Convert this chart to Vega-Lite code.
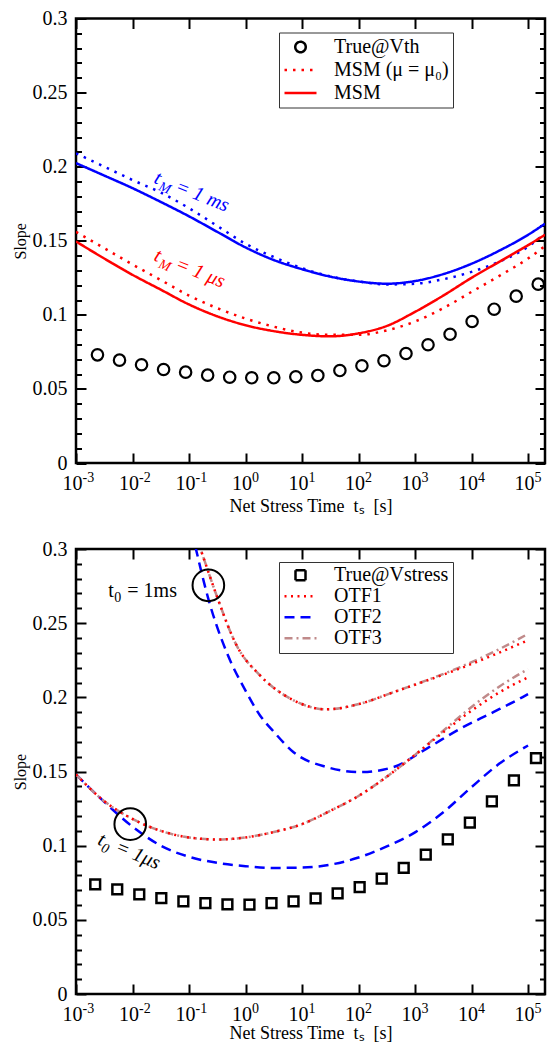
{
  "$schema": "https://vega.github.io/schema/vega-lite/v6.json",
  "background": "white",
  "padding": {"left": 10, "top": 6.5, "right": 2, "bottom": 0},
  "spacing": 85.5,
  "bounds": "flush",
  "resolve": {
    "scale": {"x": "independent", "y": "independent", "color": "independent", "strokeDash": "independent"},
    "legend": {"color": "independent", "strokeDash": "independent"}
  },
  "config": {
    "font": "Liberation Serif",
    "view": {"stroke": "black", "strokeWidth": 2.5},
    "axis": {"domain": false, "grid": false, "tickColor": "black", "tickWidth": 2, "labelColor": "black", "titleColor": "black", "labelFont": "Liberation Serif", "titleFont": "Liberation Serif", "titleFontWeight": "normal", "labelFlush": false, "labelOverlap": false, "labelBound": false}
  },
  "vconcat": [
    {
      "width": 469,
      "height": 444.5,
      "resolve": {"axis": {"x": "independent", "y": "independent"}},
      "layer": [
        {
          "data": {"values": [
            {"t": 0.001, "slope": 0.209, "series": "MSM (μ = μ₀)", "tM": "1 ms"},
            {"t": 0.0031623, "slope": 0.2, "series": "MSM (μ = μ₀)", "tM": "1 ms"},
            {"t": 0.01, "slope": 0.191, "series": "MSM (μ = μ₀)", "tM": "1 ms"},
            {"t": 0.031623, "slope": 0.1825, "series": "MSM (μ = μ₀)", "tM": "1 ms"},
            {"t": 0.1, "slope": 0.172, "series": "MSM (μ = μ₀)", "tM": "1 ms"},
            {"t": 0.31623, "slope": 0.16, "series": "MSM (μ = μ₀)", "tM": "1 ms"},
            {"t": 1, "slope": 0.148, "series": "MSM (μ = μ₀)", "tM": "1 ms"},
            {"t": 3.1623, "slope": 0.139, "series": "MSM (μ = μ₀)", "tM": "1 ms"},
            {"t": 10, "slope": 0.1315, "series": "MSM (μ = μ₀)", "tM": "1 ms"},
            {"t": 31.623, "slope": 0.126, "series": "MSM (μ = μ₀)", "tM": "1 ms"},
            {"t": 100, "slope": 0.1225, "series": "MSM (μ = μ₀)", "tM": "1 ms"},
            {"t": 316.23, "slope": 0.1205, "series": "MSM (μ = μ₀)", "tM": "1 ms"},
            {"t": 1000, "slope": 0.121, "series": "MSM (μ = μ₀)", "tM": "1 ms"},
            {"t": 3162.3, "slope": 0.124, "series": "MSM (μ = μ₀)", "tM": "1 ms"},
            {"t": 10000, "slope": 0.129, "series": "MSM (μ = μ₀)", "tM": "1 ms"},
            {"t": 31623, "slope": 0.136, "series": "MSM (μ = μ₀)", "tM": "1 ms"},
            {"t": 100000, "slope": 0.146, "series": "MSM (μ = μ₀)", "tM": "1 ms"},
            {"t": 199526, "slope": 0.155, "series": "MSM (μ = μ₀)", "tM": "1 ms"},
            {"t": 0.001, "slope": 0.2024, "series": "MSM", "tM": "1 ms"},
            {"t": 0.0031623, "slope": 0.194, "series": "MSM", "tM": "1 ms"},
            {"t": 0.01, "slope": 0.1855, "series": "MSM", "tM": "1 ms"},
            {"t": 0.031623, "slope": 0.1762, "series": "MSM", "tM": "1 ms"},
            {"t": 0.1, "slope": 0.1665, "series": "MSM", "tM": "1 ms"},
            {"t": 0.31623, "slope": 0.156, "series": "MSM", "tM": "1 ms"},
            {"t": 1, "slope": 0.1455, "series": "MSM", "tM": "1 ms"},
            {"t": 3.1623, "slope": 0.137, "series": "MSM", "tM": "1 ms"},
            {"t": 10, "slope": 0.1308, "series": "MSM", "tM": "1 ms"},
            {"t": 31.623, "slope": 0.1258, "series": "MSM", "tM": "1 ms"},
            {"t": 100, "slope": 0.1225, "series": "MSM", "tM": "1 ms"},
            {"t": 316.23, "slope": 0.121, "series": "MSM", "tM": "1 ms"},
            {"t": 1000, "slope": 0.1228, "series": "MSM", "tM": "1 ms"},
            {"t": 3162.3, "slope": 0.1275, "series": "MSM", "tM": "1 ms"},
            {"t": 10000, "slope": 0.1345, "series": "MSM", "tM": "1 ms"},
            {"t": 31623, "slope": 0.1435, "series": "MSM", "tM": "1 ms"},
            {"t": 100000, "slope": 0.154, "series": "MSM", "tM": "1 ms"},
            {"t": 199526, "slope": 0.1615, "series": "MSM", "tM": "1 ms"},
            {"t": 0.001, "slope": 0.156, "series": "MSM (μ = μ₀)", "tM": "1 μs"},
            {"t": 0.0031623, "slope": 0.145, "series": "MSM (μ = μ₀)", "tM": "1 μs"},
            {"t": 0.01, "slope": 0.134, "series": "MSM (μ = μ₀)", "tM": "1 μs"},
            {"t": 0.031623, "slope": 0.1235, "series": "MSM (μ = μ₀)", "tM": "1 μs"},
            {"t": 0.1, "slope": 0.113, "series": "MSM (μ = μ₀)", "tM": "1 μs"},
            {"t": 0.31623, "slope": 0.1045, "series": "MSM (μ = μ₀)", "tM": "1 μs"},
            {"t": 1, "slope": 0.0975, "series": "MSM (μ = μ₀)", "tM": "1 μs"},
            {"t": 3.1623, "slope": 0.092, "series": "MSM (μ = μ₀)", "tM": "1 μs"},
            {"t": 10, "slope": 0.088, "series": "MSM (μ = μ₀)", "tM": "1 μs"},
            {"t": 31.623, "slope": 0.0865, "series": "MSM (μ = μ₀)", "tM": "1 μs"},
            {"t": 100, "slope": 0.0865, "series": "MSM (μ = μ₀)", "tM": "1 μs"},
            {"t": 316.23, "slope": 0.0895, "series": "MSM (μ = μ₀)", "tM": "1 μs"},
            {"t": 1000, "slope": 0.0955, "series": "MSM (μ = μ₀)", "tM": "1 μs"},
            {"t": 3162.3, "slope": 0.1045, "series": "MSM (μ = μ₀)", "tM": "1 μs"},
            {"t": 10000, "slope": 0.1155, "series": "MSM (μ = μ₀)", "tM": "1 μs"},
            {"t": 31623, "slope": 0.1265, "series": "MSM (μ = μ₀)", "tM": "1 μs"},
            {"t": 100000, "slope": 0.138, "series": "MSM (μ = μ₀)", "tM": "1 μs"},
            {"t": 199526, "slope": 0.1465, "series": "MSM (μ = μ₀)", "tM": "1 μs"},
            {"t": 0.001, "slope": 0.1495, "series": "MSM", "tM": "1 μs"},
            {"t": 0.0031623, "slope": 0.138, "series": "MSM", "tM": "1 μs"},
            {"t": 0.01, "slope": 0.127, "series": "MSM", "tM": "1 μs"},
            {"t": 0.031623, "slope": 0.117, "series": "MSM", "tM": "1 μs"},
            {"t": 0.1, "slope": 0.107, "series": "MSM", "tM": "1 μs"},
            {"t": 0.31623, "slope": 0.099, "series": "MSM", "tM": "1 μs"},
            {"t": 1, "slope": 0.093, "series": "MSM", "tM": "1 μs"},
            {"t": 3.1623, "slope": 0.089, "series": "MSM", "tM": "1 μs"},
            {"t": 10, "slope": 0.0865, "series": "MSM", "tM": "1 μs"},
            {"t": 31.623, "slope": 0.0855, "series": "MSM", "tM": "1 μs"},
            {"t": 100, "slope": 0.0875, "series": "MSM", "tM": "1 μs"},
            {"t": 316.23, "slope": 0.0925, "series": "MSM", "tM": "1 μs"},
            {"t": 1000, "slope": 0.102, "series": "MSM", "tM": "1 μs"},
            {"t": 3162.3, "slope": 0.113, "series": "MSM", "tM": "1 μs"},
            {"t": 10000, "slope": 0.125, "series": "MSM", "tM": "1 μs"},
            {"t": 31623, "slope": 0.136, "series": "MSM", "tM": "1 μs"},
            {"t": 100000, "slope": 0.147, "series": "MSM", "tM": "1 μs"},
            {"t": 199526, "slope": 0.154, "series": "MSM", "tM": "1 μs"}
          ]},
          "mark": {"type": "line", "strokeWidth": 2.5, "interpolate": "monotone", "clip": true},
          "encoding": {
            "x": {"field": "t", "type": "quantitative", "scale": {"type": "log", "domain": [0.001, 199526], "nice": false},
              "axis": {"orient": "bottom", "values": [0.001, 0.01, 0.1, 1, 10, 100, 1000, 10000, 100000], "tickSize": -10, "labelPadding": 20, "labelFontSize": 20, "labelFont": "Liberation Serif", "labelExpr": "'10'", "labelAlign": "center", "labelOffset": -4, "labelBaseline": "top",
                "title": "Net Stress Time \u00a0tₛ \u00a0[s]", "titleFont": "Liberation Serif", "titleFontSize": 18, "titleY": 34, "titleBaseline": "top"}},
            "y": {"field": "slope", "type": "quantitative", "scale": {"domain": [0, 0.3], "nice": false, "zero": false},
              "axis": {"orient": "left", "values": [0, 0.05, 0.1, 0.15, 0.2, 0.25, 0.3], "format": "~g", "tickSize": -10, "labelPadding": 19, "labelFontSize": 20, "labelFont": "Liberation Serif",
                "title": "Slope", "titleFont": "Liberation Serif", "titleFontSize": 16, "titleX": -56, "titleBaseline": "middle"}},
            "color": {"field": "tM", "type": "nominal", "scale": {"domain": ["1 ms", "1 μs"], "range": ["#0000ff", "#ff0000"]}, "legend": null},
            "strokeDash": {"field": "series", "type": "nominal",
              "scale": {"domain": ["True@Vth", "MSM (μ = μ₀)", "MSM"], "range": [[1, 0], [2.5, 6], [1, 0]]},
              "legend": {"orient": "none", "legendX": 203, "legendY": 14, "title": null,
                "labelFont": "Liberation Serif", "labelFontSize": 20, "labelColor": "black", "labelOffset": 16,
                "padding": 4, "rowPadding": 2, "clipHeight": 21, "symbolSize": 1024, "symbolStrokeWidth": 2.5,
                "strokeColor": "#333333", "fillColor": "white", "symbolType": "stroke",
                "encode": {"symbols": {"update": {
                  "shape": {"signal": "datum.value === 'True@Vth' ? 'circle' : 'stroke'"},
                  "size": {"signal": "datum.value === 'True@Vth' ? 110 : 1024"},
                  "stroke": {"signal": "datum.value === 'True@Vth' ? 'black' : '#ff0000'"},
                  "fill": {"value": "transparent"},
                  "strokeDash": {"signal": "datum.value === 'MSM' ? [1, 0] : datum.value === 'True@Vth' ? [1, 0] : [2.5, 6]"}
                }}}}
            }
          }
        },
        {
          "data": {"values": [
            {"t": 0.0023988, "slope": 0.073}, {"t": 0.0058884, "slope": 0.0694}, {"t": 0.014454, "slope": 0.0663},
            {"t": 0.035481, "slope": 0.0631}, {"t": 0.087096, "slope": 0.0613}, {"t": 0.21380, "slope": 0.0593},
            {"t": 0.52481, "slope": 0.0579}, {"t": 1.2882, "slope": 0.0575}, {"t": 3.1623, "slope": 0.0575},
            {"t": 7.7625, "slope": 0.0582}, {"t": 19.055, "slope": 0.0591}, {"t": 46.774, "slope": 0.0624},
            {"t": 114.82, "slope": 0.0656}, {"t": 281.84, "slope": 0.069}, {"t": 691.83, "slope": 0.0739},
            {"t": 1698.2, "slope": 0.0798}, {"t": 4168.7, "slope": 0.0869}, {"t": 10233, "slope": 0.0955},
            {"t": 25119, "slope": 0.1038}, {"t": 61660, "slope": 0.1126}, {"t": 151356, "slope": 0.1207}
          ]},
          "mark": {"type": "point", "shape": "circle", "filled": false, "stroke": "black", "strokeWidth": 2.2, "size": 130, "opacity": 1},
          "encoding": {
            "x": {"field": "t", "type": "quantitative", "scale": {"type": "log", "domain": [0.001, 199526], "nice": false},
              "axis": {"orient": "top", "values": [0.001, 0.01, 0.1, 1, 10, 100, 1000, 10000, 100000], "tickSize": -10, "labels": false, "title": null}},
            "y": {"field": "slope", "type": "quantitative", "scale": {"domain": [0, 0.3], "nice": false, "zero": false},
              "axis": {"orient": "right", "values": [0, 0.05, 0.1, 0.15, 0.2, 0.25, 0.3], "tickSize": -10, "labels": false, "title": null}}
          }
        },
        {
          "data": {"values": [
            {"t": 0.02307, "slope": 0.1893, "tM": "1 ms", "head": "t", "sub": "M", "rest": "= 1 ms"},
            {"t": 0.02307, "slope": 0.137, "tM": "1 μs", "head": "t", "sub": "M", "rest": "= 1 μs"}
          ]},
          "mark": {"type": "text", "font": "Liberation Serif", "fontStyle": "italic", "fontSize": 20, "align": "left", "baseline": "alphabetic", "angle": 22},
          "encoding": {
            "x": {"field": "t", "type": "quantitative", "scale": {"type": "log", "domain": [0.001, 199526], "nice": false},
              "axis": {"orient": "bottom", "values": [0.001, 0.01, 0.1, 1, 10, 100, 1000, 10000, 100000], "ticks": false, "tickSize": 0, "labelPadding": 7, "labelFontSize": 14, "labelFont": "Liberation Serif", "labelExpr": "'' + round(log(datum.value) / LN10)", "labelAlign": "left", "labelOffset": 6, "labelBaseline": "top", "title": null}},
            "y": {"field": "slope", "type": "quantitative", "scale": {"domain": [0, 0.3], "nice": false, "zero": false},
              "axis": {"orient": "left", "values": [0.01, 0.02, 0.03, 0.04, 0.06, 0.07, 0.08, 0.09, 0.11, 0.12, 0.13, 0.14, 0.16, 0.17, 0.18, 0.19, 0.21, 0.22, 0.23, 0.24, 0.26, 0.27, 0.28, 0.29], "tickSize": -5.5, "labels": false, "title": null}},
            "text": {"field": "head"},
            "color": {"field": "tM", "type": "nominal", "scale": {"domain": ["1 ms", "1 μs"], "range": ["#0000ff", "#ff0000"]}, "legend": null}
          }
        },
        {
          "data": {"values": [
            {"t": 0.02307, "slope": 0.1893, "tM": "1 ms", "head": "t", "sub": "M", "rest": "= 1 ms"},
            {"t": 0.02307, "slope": 0.137, "tM": "1 μs", "head": "t", "sub": "M", "rest": "= 1 μs"}
          ]},
          "mark": {"type": "text", "font": "Liberation Serif", "fontStyle": "italic", "fontSize": 14, "align": "left", "baseline": "alphabetic", "angle": 22, "dx": 7, "dy": 5},
          "encoding": {
            "x": {"field": "t", "type": "quantitative", "scale": {"type": "log", "domain": [0.001, 199526], "nice": false}, "axis": null},
            "y": {"field": "slope", "type": "quantitative", "scale": {"domain": [0, 0.3], "nice": false, "zero": false},
              "axis": {"orient": "right", "values": [0.01, 0.02, 0.03, 0.04, 0.06, 0.07, 0.08, 0.09, 0.11, 0.12, 0.13, 0.14, 0.16, 0.17, 0.18, 0.19, 0.21, 0.22, 0.23, 0.24, 0.26, 0.27, 0.28, 0.29], "tickSize": -5.5, "labels": false, "title": null}},
            "text": {"field": "sub"},
            "color": {"field": "tM", "type": "nominal", "scale": {"domain": ["1 ms", "1 μs"], "range": ["#0000ff", "#ff0000"]}, "legend": null}
          }
        },
        {
          "data": {"values": [
            {"t": 0.02307, "slope": 0.1893, "tM": "1 ms", "head": "t", "sub": "M", "rest": "= 1 ms"},
            {"t": 0.02307, "slope": 0.137, "tM": "1 μs", "head": "t", "sub": "M", "rest": "= 1 μs"}
          ]},
          "mark": {"type": "text", "font": "Liberation Serif", "fontStyle": "italic", "fontSize": 20, "align": "left", "baseline": "alphabetic", "angle": 22, "dx": 23},
          "encoding": {
            "x": {"field": "t", "type": "quantitative", "scale": {"type": "log", "domain": [0.001, 199526], "nice": false}, "axis": null},
            "y": {"field": "slope", "type": "quantitative", "scale": {"domain": [0, 0.3], "nice": false, "zero": false}, "axis": null},
            "text": {"field": "rest"},
            "color": {"field": "tM", "type": "nominal", "scale": {"domain": ["1 ms", "1 μs"], "range": ["#0000ff", "#ff0000"]}, "legend": null}
          }
        }
      ]
    },
    {
      "width": 469,
      "height": 445,
      "resolve": {"axis": {"x": "independent", "y": "independent"}},
      "layer": [
        {
          "data": {"values": [
            {"t": 0.1122, "slope": 0.312, "curve": "OTF2", "t0": "1 ms"},
            {"t": 0.13646, "slope": 0.298, "curve": "OTF2", "t0": "1 ms"},
            {"t": 0.21979, "slope": 0.2664, "curve": "OTF2", "t0": "1 ms"},
            {"t": 0.46238, "slope": 0.2305, "curve": "OTF2", "t0": "1 ms"},
            {"t": 1, "slope": 0.2045, "curve": "OTF2", "t0": "1 ms"},
            {"t": 1.8072, "slope": 0.1878, "curve": "OTF2", "t0": "1 ms"},
            {"t": 3.1623, "slope": 0.1768, "curve": "OTF2", "t0": "1 ms"},
            {"t": 7.0795, "slope": 0.163, "curve": "OTF2", "t0": "1 ms"},
            {"t": 27.227, "slope": 0.153, "curve": "OTF2", "t0": "1 ms"},
            {"t": 107.15, "slope": 0.1496, "curve": "OTF2", "t0": "1 ms"},
            {"t": 416.87, "slope": 0.153, "curve": "OTF2", "t0": "1 ms"},
            {"t": 1584.9, "slope": 0.1653, "curve": "OTF2", "t0": "1 ms"},
            {"t": 6251.7, "slope": 0.1788, "curve": "OTF2", "t0": "1 ms"},
            {"t": 24322, "slope": 0.19, "curve": "OTF2", "t0": "1 ms"},
            {"t": 80353, "slope": 0.2002, "curve": "OTF2", "t0": "1 ms"},
            {"t": 100000, "slope": 0.2022, "curve": "OTF2", "t0": "1 ms"},
            {"t": 0.001, "slope": 0.148, "curve": "OTF2", "t0": "1 μs"},
            {"t": 0.0031623, "slope": 0.1295, "curve": "OTF2", "t0": "1 μs"},
            {"t": 0.01, "slope": 0.1128, "curve": "OTF2", "t0": "1 μs"},
            {"t": 0.031623, "slope": 0.1, "curve": "OTF2", "t0": "1 μs"},
            {"t": 0.1, "slope": 0.0925, "curve": "OTF2", "t0": "1 μs"},
            {"t": 0.31623, "slope": 0.0884, "curve": "OTF2", "t0": "1 μs"},
            {"t": 1, "slope": 0.0862, "curve": "OTF2", "t0": "1 μs"},
            {"t": 3.1623, "slope": 0.085, "curve": "OTF2", "t0": "1 μs"},
            {"t": 10, "slope": 0.0852, "curve": "OTF2", "t0": "1 μs"},
            {"t": 31.623, "slope": 0.0872, "curve": "OTF2", "t0": "1 μs"},
            {"t": 100, "slope": 0.092, "curve": "OTF2", "t0": "1 μs"},
            {"t": 316.23, "slope": 0.0995, "curve": "OTF2", "t0": "1 μs"},
            {"t": 1000, "slope": 0.109, "curve": "OTF2", "t0": "1 μs"},
            {"t": 3162.3, "slope": 0.1225, "curve": "OTF2", "t0": "1 μs"},
            {"t": 10000, "slope": 0.1395, "curve": "OTF2", "t0": "1 μs"},
            {"t": 31623, "slope": 0.1555, "curve": "OTF2", "t0": "1 μs"},
            {"t": 100000, "slope": 0.1675, "curve": "OTF2", "t0": "1 μs"},
            {"t": 0.14125, "slope": 0.306, "curve": "OTF3", "t0": "1 ms"},
            {"t": 0.17906, "slope": 0.2945, "curve": "OTF3", "t0": "1 ms"},
            {"t": 0.30761, "slope": 0.2687, "curve": "OTF3", "t0": "1 ms"},
            {"t": 0.69502, "slope": 0.235, "curve": "OTF3", "t0": "1 ms"},
            {"t": 1.8072, "slope": 0.2148, "curve": "OTF3", "t0": "1 ms"},
            {"t": 7.0795, "slope": 0.198, "curve": "OTF3", "t0": "1 ms"},
            {"t": 27.227, "slope": 0.1919, "curve": "OTF3", "t0": "1 ms"},
            {"t": 107.15, "slope": 0.1957, "curve": "OTF3", "t0": "1 ms"},
            {"t": 416.87, "slope": 0.2035, "curve": "OTF3", "t0": "1 ms"},
            {"t": 1584.9, "slope": 0.2114, "curve": "OTF3", "t0": "1 ms"},
            {"t": 6309.6, "slope": 0.2204, "curve": "OTF3", "t0": "1 ms"},
            {"t": 24322, "slope": 0.2305, "curve": "OTF3", "t0": "1 ms"},
            {"t": 100000, "slope": 0.2428, "curve": "OTF3", "t0": "1 ms"},
            {"t": 0.001, "slope": 0.148, "curve": "OTF3", "t0": "1 μs"},
            {"t": 0.0031623, "slope": 0.13, "curve": "OTF3", "t0": "1 μs"},
            {"t": 0.01, "slope": 0.118, "curve": "OTF3", "t0": "1 μs"},
            {"t": 0.031623, "slope": 0.11, "curve": "OTF3", "t0": "1 μs"},
            {"t": 0.1, "slope": 0.1055, "curve": "OTF3", "t0": "1 μs"},
            {"t": 0.31623, "slope": 0.1042, "curve": "OTF3", "t0": "1 μs"},
            {"t": 1, "slope": 0.1055, "curve": "OTF3", "t0": "1 μs"},
            {"t": 3.1623, "slope": 0.1092, "curve": "OTF3", "t0": "1 μs"},
            {"t": 10, "slope": 0.1145, "curve": "OTF3", "t0": "1 μs"},
            {"t": 31.623, "slope": 0.1235, "curve": "OTF3", "t0": "1 μs"},
            {"t": 100, "slope": 0.1335, "curve": "OTF3", "t0": "1 μs"},
            {"t": 316.23, "slope": 0.1465, "curve": "OTF3", "t0": "1 μs"},
            {"t": 1000, "slope": 0.1612, "curve": "OTF3", "t0": "1 μs"},
            {"t": 3162.3, "slope": 0.1775, "curve": "OTF3", "t0": "1 μs"},
            {"t": 10000, "slope": 0.1935, "curve": "OTF3", "t0": "1 μs"},
            {"t": 31623, "slope": 0.2075, "curve": "OTF3", "t0": "1 μs"},
            {"t": 100000, "slope": 0.219, "curve": "OTF3", "t0": "1 μs"},
            {"t": 0.14125, "slope": 0.306, "curve": "OTF1", "t0": "1 ms"},
            {"t": 0.17906, "slope": 0.2945, "curve": "OTF1", "t0": "1 ms"},
            {"t": 0.30761, "slope": 0.2687, "curve": "OTF1", "t0": "1 ms"},
            {"t": 0.69502, "slope": 0.235, "curve": "OTF1", "t0": "1 ms"},
            {"t": 1.8072, "slope": 0.2148, "curve": "OTF1", "t0": "1 ms"},
            {"t": 7.0795, "slope": 0.198, "curve": "OTF1", "t0": "1 ms"},
            {"t": 27.227, "slope": 0.1919, "curve": "OTF1", "t0": "1 ms"},
            {"t": 107.15, "slope": 0.1957, "curve": "OTF1", "t0": "1 ms"},
            {"t": 416.87, "slope": 0.2035, "curve": "OTF1", "t0": "1 ms"},
            {"t": 1584.9, "slope": 0.2112, "curve": "OTF1", "t0": "1 ms"},
            {"t": 6309.6, "slope": 0.2195, "curve": "OTF1", "t0": "1 ms"},
            {"t": 24322, "slope": 0.2285, "curve": "OTF1", "t0": "1 ms"},
            {"t": 100000, "slope": 0.2385, "curve": "OTF1", "t0": "1 ms"},
            {"t": 0.001, "slope": 0.148, "curve": "OTF1", "t0": "1 μs"},
            {"t": 0.0031623, "slope": 0.13, "curve": "OTF1", "t0": "1 μs"},
            {"t": 0.01, "slope": 0.118, "curve": "OTF1", "t0": "1 μs"},
            {"t": 0.031623, "slope": 0.11, "curve": "OTF1", "t0": "1 μs"},
            {"t": 0.1, "slope": 0.1055, "curve": "OTF1", "t0": "1 μs"},
            {"t": 0.31623, "slope": 0.1042, "curve": "OTF1", "t0": "1 μs"},
            {"t": 1, "slope": 0.1055, "curve": "OTF1", "t0": "1 μs"},
            {"t": 3.1623, "slope": 0.1092, "curve": "OTF1", "t0": "1 μs"},
            {"t": 10, "slope": 0.1145, "curve": "OTF1", "t0": "1 μs"},
            {"t": 31.623, "slope": 0.1235, "curve": "OTF1", "t0": "1 μs"},
            {"t": 100, "slope": 0.1335, "curve": "OTF1", "t0": "1 μs"},
            {"t": 316.23, "slope": 0.1465, "curve": "OTF1", "t0": "1 μs"},
            {"t": 1000, "slope": 0.1612, "curve": "OTF1", "t0": "1 μs"},
            {"t": 3162.3, "slope": 0.1765, "curve": "OTF1", "t0": "1 μs"},
            {"t": 10000, "slope": 0.191, "curve": "OTF1", "t0": "1 μs"},
            {"t": 31623, "slope": 0.2035, "curve": "OTF1", "t0": "1 μs"},
            {"t": 100000, "slope": 0.2135, "curve": "OTF1", "t0": "1 μs"}
          ]},
          "mark": {"type": "line", "strokeWidth": 2.5, "interpolate": "monotone", "clip": true},
          "encoding": {
            "x": {"field": "t", "type": "quantitative", "scale": {"type": "log", "domain": [0.001, 199526], "nice": false},
              "axis": {"orient": "bottom", "values": [0.001, 0.01, 0.1, 1, 10, 100, 1000, 10000, 100000], "tickSize": -10, "labelPadding": 20, "labelFontSize": 20, "labelFont": "Liberation Serif", "labelExpr": "'10'", "labelAlign": "center", "labelOffset": -4, "labelBaseline": "top",
                "title": "Net Stress Time \u00a0tₛ \u00a0[s]", "titleFont": "Liberation Serif", "titleFontSize": 18, "titleY": 30, "titleBaseline": "top"}},
            "y": {"field": "slope", "type": "quantitative", "scale": {"domain": [0, 0.3], "nice": false, "zero": false},
              "axis": {"orient": "left", "values": [0, 0.05, 0.1, 0.15, 0.2, 0.25, 0.3], "format": "~g", "tickSize": -10, "labelPadding": 19, "labelFontSize": 20, "labelFont": "Liberation Serif",
                "title": "Slope", "titleFont": "Liberation Serif", "titleFontSize": 16, "titleX": -56, "titleBaseline": "middle"}},
            "detail": {"field": "t0"},
            "strokeDash": {"field": "curve", "type": "nominal",
              "scale": {"domain": ["True@Vstress", "OTF1", "OTF2", "OTF3"], "range": [[1, 0], [2, 4.5], [10, 6], [8, 4, 2, 4]]}, "legend": null},
            "color": {"field": "curve", "type": "nominal",
              "scale": {"domain": ["True@Vstress", "OTF1", "OTF2", "OTF3"], "range": ["black", "#ff0000", "#0000ff", "#c08a8a"]},
              "legend": {"orient": "none", "legendX": 203, "legendY": 13, "title": null,
                "labelFont": "Liberation Serif", "labelFontSize": 20, "labelColor": "black", "labelOffset": 16,
                "padding": 4, "rowPadding": 0, "clipHeight": 18.5, "symbolSize": 1024, "symbolStrokeWidth": 2.5,
                "strokeColor": "#333333", "fillColor": "white", "symbolType": "stroke",
                "encode": {"symbols": {"update": {
                  "shape": {"signal": "datum.value === 'True@Vstress' ? 'square' : 'stroke'"},
                  "size": {"signal": "datum.value === 'True@Vstress' ? 100 : 1024"},
                  "stroke": {"signal": "datum.value === 'True@Vstress' ? 'black' : datum.value === 'OTF1' ? '#ff0000' : datum.value === 'OTF2' ? '#0000ff' : '#c08a8a'"},
                  "fill": {"value": "transparent"},
                  "strokeDash": {"signal": "datum.value === 'OTF1' ? [2, 4.5] : datum.value === 'OTF2' ? [10, 6] : datum.value === 'OTF3' ? [8, 4, 2, 4] : [1, 0]"}
                }}}}
            }
          }
        },
        {
          "data": {"values": [
            {"t": 0.0021878, "slope": 0.0739}, {"t": 0.0053703, "slope": 0.0706}, {"t": 0.013183, "slope": 0.0672},
            {"t": 0.032359, "slope": 0.0647}, {"t": 0.079433, "slope": 0.0625}, {"t": 0.19498, "slope": 0.0613},
            {"t": 0.47863, "slope": 0.0605}, {"t": 1.1749, "slope": 0.0602}, {"t": 2.8840, "slope": 0.0613},
            {"t": 7.0795, "slope": 0.0625}, {"t": 17.378, "slope": 0.0644}, {"t": 42.658, "slope": 0.0679},
            {"t": 104.71, "slope": 0.0721}, {"t": 257.04, "slope": 0.0777}, {"t": 630.96, "slope": 0.0851},
            {"t": 1548.8, "slope": 0.0939}, {"t": 3801.9, "slope": 0.1043}, {"t": 9332.5, "slope": 0.1155},
            {"t": 22909, "slope": 0.1299}, {"t": 56234, "slope": 0.144}, {"t": 138038, "slope": 0.1591}
          ]},
          "mark": {"type": "point", "shape": "square", "filled": false, "stroke": "black", "strokeWidth": 2.5, "size": 95, "opacity": 1},
          "encoding": {
            "x": {"field": "t", "type": "quantitative", "scale": {"type": "log", "domain": [0.001, 199526], "nice": false},
              "axis": {"orient": "top", "values": [0.001, 0.01, 0.1, 1, 10, 100, 1000, 10000, 100000], "tickSize": -10, "labels": false, "title": null}},
            "y": {"field": "slope", "type": "quantitative", "scale": {"domain": [0, 0.3], "nice": false, "zero": false},
              "axis": {"orient": "right", "values": [0, 0.05, 0.1, 0.15, 0.2, 0.25, 0.3], "tickSize": -10, "labels": false, "title": null}}
          }
        },
        {
          "data": {"values": [{"t": 0.22, "slope": 0.2755}, {"t": 0.00912, "slope": 0.1145}]},
          "mark": {"type": "point", "shape": "circle", "filled": false, "stroke": "black", "strokeWidth": 2, "size": 1000, "opacity": 1},
          "encoding": {
            "x": {"field": "t", "type": "quantitative", "scale": {"type": "log", "domain": [0.001, 199526], "nice": false},
              "axis": {"orient": "bottom", "values": [0.001, 0.01, 0.1, 1, 10, 100, 1000, 10000, 100000], "ticks": false, "tickSize": 0, "labelPadding": 7, "labelFontSize": 14, "labelFont": "Liberation Serif", "labelExpr": "'' + round(log(datum.value) / LN10)", "labelAlign": "left", "labelOffset": 6, "labelBaseline": "top", "title": null}},
            "y": {"field": "slope", "type": "quantitative", "scale": {"domain": [0, 0.3], "nice": false, "zero": false},
              "axis": {"orient": "left", "values": [0.01, 0.02, 0.03, 0.04, 0.06, 0.07, 0.08, 0.09, 0.11, 0.12, 0.13, 0.14, 0.16, 0.17, 0.18, 0.19, 0.21, 0.22, 0.23, 0.24, 0.26, 0.27, 0.28, 0.29], "tickSize": -5.5, "labels": false, "title": null}}
          }
        },
        {
          "data": {"values": [{"t": 0.003733, "slope": 0.2676, "head": "t", "sub": "0", "rest": "= 1ms"}]},
          "mark": {"type": "text", "font": "Liberation Serif", "fontSize": 20, "align": "left", "baseline": "alphabetic", "color": "black"},
          "encoding": {
            "x": {"field": "t", "type": "quantitative", "scale": {"type": "log", "domain": [0.001, 199526], "nice": false}, "axis": null},
            "y": {"field": "slope", "type": "quantitative", "scale": {"domain": [0, 0.3], "nice": false, "zero": false},
              "axis": {"orient": "right", "values": [0.01, 0.02, 0.03, 0.04, 0.06, 0.07, 0.08, 0.09, 0.11, 0.12, 0.13, 0.14, 0.16, 0.17, 0.18, 0.19, 0.21, 0.22, 0.23, 0.24, 0.26, 0.27, 0.28, 0.29], "tickSize": -5.5, "labels": false, "title": null}},
            "text": {"field": "head"}
          }
        },
        {
          "data": {"values": [{"t": 0.003733, "slope": 0.2676, "head": "t", "sub": "0", "rest": "= 1ms"}]},
          "mark": {"type": "text", "font": "Liberation Serif", "fontSize": 14, "align": "left", "baseline": "alphabetic", "color": "black", "dx": 6, "dy": 5},
          "encoding": {
            "x": {"field": "t", "type": "quantitative", "scale": {"type": "log", "domain": [0.001, 199526], "nice": false}, "axis": null},
            "y": {"field": "slope", "type": "quantitative", "scale": {"domain": [0, 0.3], "nice": false, "zero": false}, "axis": null},
            "text": {"field": "sub"}
          }
        },
        {
          "data": {"values": [{"t": 0.003733, "slope": 0.2676, "head": "t", "sub": "0", "rest": "= 1ms"}]},
          "mark": {"type": "text", "font": "Liberation Serif", "fontSize": 20, "align": "left", "baseline": "alphabetic", "color": "black", "dx": 19},
          "encoding": {
            "x": {"field": "t", "type": "quantitative", "scale": {"type": "log", "domain": [0.001, 199526], "nice": false}, "axis": null},
            "y": {"field": "slope", "type": "quantitative", "scale": {"domain": [0, 0.3], "nice": false, "zero": false}, "axis": null},
            "text": {"field": "rest"}
          }
        },
        {
          "data": {"values": [{"t": 0.002333, "slope": 0.1011, "head": "t", "sub": "0", "rest": "= 1μs"}]},
          "mark": {"type": "text", "font": "Liberation Serif", "fontStyle": "italic", "fontSize": 20, "align": "left", "baseline": "alphabetic", "color": "black", "angle": 23},
          "encoding": {
            "x": {"field": "t", "type": "quantitative", "scale": {"type": "log", "domain": [0.001, 199526], "nice": false}, "axis": null},
            "y": {"field": "slope", "type": "quantitative", "scale": {"domain": [0, 0.3], "nice": false, "zero": false}, "axis": null},
            "text": {"field": "head"}
          }
        },
        {
          "data": {"values": [{"t": 0.002333, "slope": 0.1011, "head": "t", "sub": "0", "rest": "= 1μs"}]},
          "mark": {"type": "text", "font": "Liberation Serif", "fontStyle": "italic", "fontSize": 14, "align": "left", "baseline": "alphabetic", "color": "black", "angle": 23, "dx": 6, "dy": 5},
          "encoding": {
            "x": {"field": "t", "type": "quantitative", "scale": {"type": "log", "domain": [0.001, 199526], "nice": false}, "axis": null},
            "y": {"field": "slope", "type": "quantitative", "scale": {"domain": [0, 0.3], "nice": false, "zero": false}, "axis": null},
            "text": {"field": "sub"}
          }
        },
        {
          "data": {"values": [{"t": 0.002333, "slope": 0.1011, "head": "t", "sub": "0", "rest": "= 1μs"}]},
          "mark": {"type": "text", "font": "Liberation Serif", "fontStyle": "italic", "fontSize": 20, "align": "left", "baseline": "alphabetic", "color": "black", "angle": 23, "dx": 19},
          "encoding": {
            "x": {"field": "t", "type": "quantitative", "scale": {"type": "log", "domain": [0.001, 199526], "nice": false}, "axis": null},
            "y": {"field": "slope", "type": "quantitative", "scale": {"domain": [0, 0.3], "nice": false, "zero": false}, "axis": null},
            "text": {"field": "rest"}
          }
        }
      ]
    }
  ]
}
